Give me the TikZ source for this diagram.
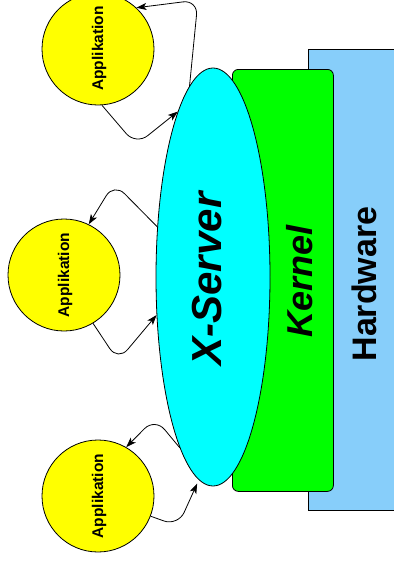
\documentclass[tikz,border=0pt]{standalone}
\usepackage{fontspec}
\setmainfont{Liberation Sans}
\usetikzlibrary{shapes.geometric,arrows.meta}

\definecolor{hwblue}{RGB}{135,206,250}
\definecolor{kgreen}{RGB}{0,255,0}
\definecolor{xcyan}{RGB}{0,255,255}
\definecolor{appyellow}{RGB}{255,255,0}

\tikzset{
  outline/.style={draw=black, line width=0.8pt},
  appcircle/.style={outline, circle, fill=appyellow, minimum size=112pt, inner sep=0pt},
  applabel/.style={rotate=90, inner sep=0pt, font=\fontsize{15.5}{18}\selectfont\bfseries},
  biglabel/.style={rotate=90, inner sep=0pt},
  flow/.style={draw=black, line width=0.8pt, rounded corners=15pt,
    -{Stealth[length=10pt,width=7pt,inset=2.5pt]}},
}

\begin{document}
\begin{tikzpicture}[x=1pt,y=-1pt]
  \useasboundingbox (0,0) rectangle (394,563);
  \clip (0,0) rectangle (394,563);

  % layers: hardware, kernel, X server
  \node[outline, fill=hwblue, rectangle, inner sep=0pt, anchor=north west,
        minimum width=90pt, minimum height=461pt] (hw) at (308,49) {};
  \node[outline, fill=kgreen, rectangle, rounded corners=6pt, inner sep=0pt,
        anchor=north west, minimum width=101pt, minimum height=422pt] (kern) at (232,69) {};
  \node[outline, fill=xcyan, ellipse, inner sep=0pt,
        minimum width=114pt, minimum height=418pt] (xs) at (213,277) {};

  \node[biglabel, font=\fontsize{34}{40}\selectfont\bfseries] at (364,284) {Hardware};
  \node[biglabel, font=\fontsize{36}{42}\selectfont\bfseries\itshape] at (300,281) {Kernel};
  \node[biglabel, font=\fontsize{42}{48}\selectfont\bfseries\itshape] at (207.5,279) {X-Server};

  % applications
  \node[appcircle] (app1) at (98,49) {};
  \node[appcircle] (app2) at (64,275) {};
  \node[appcircle] (app3) at (98,496) {};
  \node[applabel] at (99,48.5) {Applikation};
  \node[applabel] at (65,275) {Applikation};
  \node[applabel] at (99,496) {Applikation};

  % bend points of the message loops
  \coordinate (b1) at (198,0);
  \coordinate (b2) at (136,145);
  \coordinate (b3) at (114,183);
  \coordinate (b4) at (118,361);
  \coordinate (b5) at (155,418);
  \coordinate (b6) at (178,526);

  % loops between X server and applications
  \draw[flow] (xs.97) -- (b1) -- (app1.47);
  \draw[flow] (app1.274) -- (b2) -- (xs.102);
  \draw[flow] (xs.138) -- (b3) -- (app2.64);
  \draw[flow] (app2.301) -- (b4) -- (xs.214);
  \draw[flow] (xs.259) -- (b5) -- (app3.60);
  \draw[flow, shorten >=4pt] (app3.339) -- (b6) -- (xs.266);
\end{tikzpicture}
\end{document}
